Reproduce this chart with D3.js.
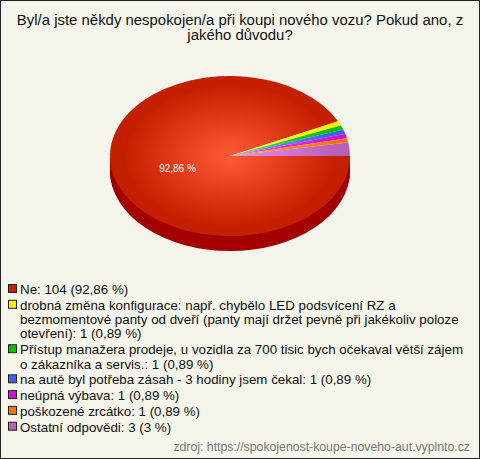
<!DOCTYPE html>
<html><head><meta charset="utf-8">
<script src="https://cdn.jsdelivr.net/npm/d3@7"></script>
<style>html,body{margin:0;padding:0;background:#fff}svg{display:block}text{font-family:"Liberation Sans",Arial,sans-serif}</style>
</head><body><div id="c"></div>
<script>
const categories=["Ne","drobná změna konfigurace","Přístup manažera","na autě byl potřeba zásah","neúpná výbava","poškozené zrcátko","Ostatní odpovědi"];
const values=[104,1,1,1,1,1,3];
const percentLabels=["92,86 %"];
const colors=["#c42000","#ffee00","#00c000","#4060f0","#d010d0","#f07800","#b860b8"];
const lightColors=["#ff5a38","#ffff60","#40f040","#80a0ff","#ff50ff","#ffa830","#f090f0"];
const titleLines=["Byl/a jste někdy nespokojen/a při koupi nového vozu? Pokud ano, z","jakého důvodu?"];
const legendEntries=[
 [0,["Ne: 104 (92,86 %)"]],
 [1,["drobná změna konfigurace: např. chybělo LED podsvícení RZ a","bezmomentové panty od dveří (panty mají držet pevně při jakékoliv poloze","otevření): 1 (0,89 %)"]],
 [2,["Přístup manažera prodeje, u vozidla za 700 tisic bych očekaval větší zájem","o zákazníka a servis.: 1 (0,89 %)"]],
 [3,["na autě byl potřeba zásah - 3 hodiny jsem čekal: 1 (0,89 %)"]],
 [4,["neúpná výbava: 1 (0,89 %)"]],
 [5,["poškozené zrcátko: 1 (0,89 %)"]],
 [6,["Ostatní odpovědi: 3 (3 %)"]]
];
const sourceText="zdroj: https://spokojenost-koupe-noveho-aut.vyplnto.cz";

const W=480,H=459,cx=230,cy=156,rx=120,ry=80,depth=15;
const svg=d3.select("#c").append("svg").attr("width",W).attr("height",H);
svg.append("rect").attr("x",0.5).attr("y",0.5).attr("width",W-1).attr("height",H-1).attr("fill","#f5f5eb").attr("stroke","#222");

svg.append("g").selectAll("text").data(titleLines).join("text")
 .attr("x",240).attr("y",(d,i)=>25+i*15).attr("text-anchor","middle").attr("font-size",14.93).attr("fill","#111").text(d=>d);

const defs=svg.append("defs");
colors.forEach((c,i)=>{
 const g=defs.append("radialGradient").attr("id","g"+i).attr("gradientUnits","userSpaceOnUse")
  .attr("cx",0).attr("cy",0).attr("r",rx);
 g.append("stop").attr("offset","0%").attr("stop-color",lightColors[i]);
 g.append("stop").attr("offset","88%").attr("stop-color",colors[i]);
 g.append("stop").attr("offset","100%").attr("stop-color",colors[i]);
});
const pie=d3.pie().sort(null).startAngle(Math.PI/2).endAngle(Math.PI/2+2*Math.PI)(values);
const arc=d3.arc().innerRadius(0).outerRadius(rx);
const sy=ry/rx;
const side=svg.append("g");
for(let k=depth;k>=1;k--){
 side.append("path").attr("transform",`translate(${cx},${cy+k}) scale(1,${sy})`)
  .attr("d",arc({startAngle:Math.PI/2,endAngle:Math.PI*1.5})).attr("fill","#a40000");
}
svg.append("g").attr("transform",`translate(${cx},${cy}) scale(1,${sy})`)
 .selectAll("path").data(pie).join("path").attr("d",arc).attr("fill",(d,i)=>`url(#g${i})`);

svg.append("text").attr("x",177.5).attr("y",172).attr("text-anchor","middle").attr("font-size",10).attr("fill","#fff").text(percentLabels[0]);

const leg=svg.append("g");
const lh=14.3;
let y=294;
legendEntries.forEach(([ci,lines],n)=>{
 leg.append("rect").attr("x",8.5).attr("y",y-9.5).attr("width",8).attr("height",8).attr("fill",colors[ci]).attr("stroke","#222");
 lines.forEach((t,j)=>{
  leg.append("text").attr("x",20).attr("y",y+j*lh).attr("font-size",13.33).attr("fill","#111").text(t);
 });
 y+=(lines.length-1)*lh+15.8;
});
svg.append("text").attr("x",470).attr("y",451).attr("text-anchor","end").attr("font-size",12.27).attr("fill","#777").text(sourceText);
</script></body></html>
